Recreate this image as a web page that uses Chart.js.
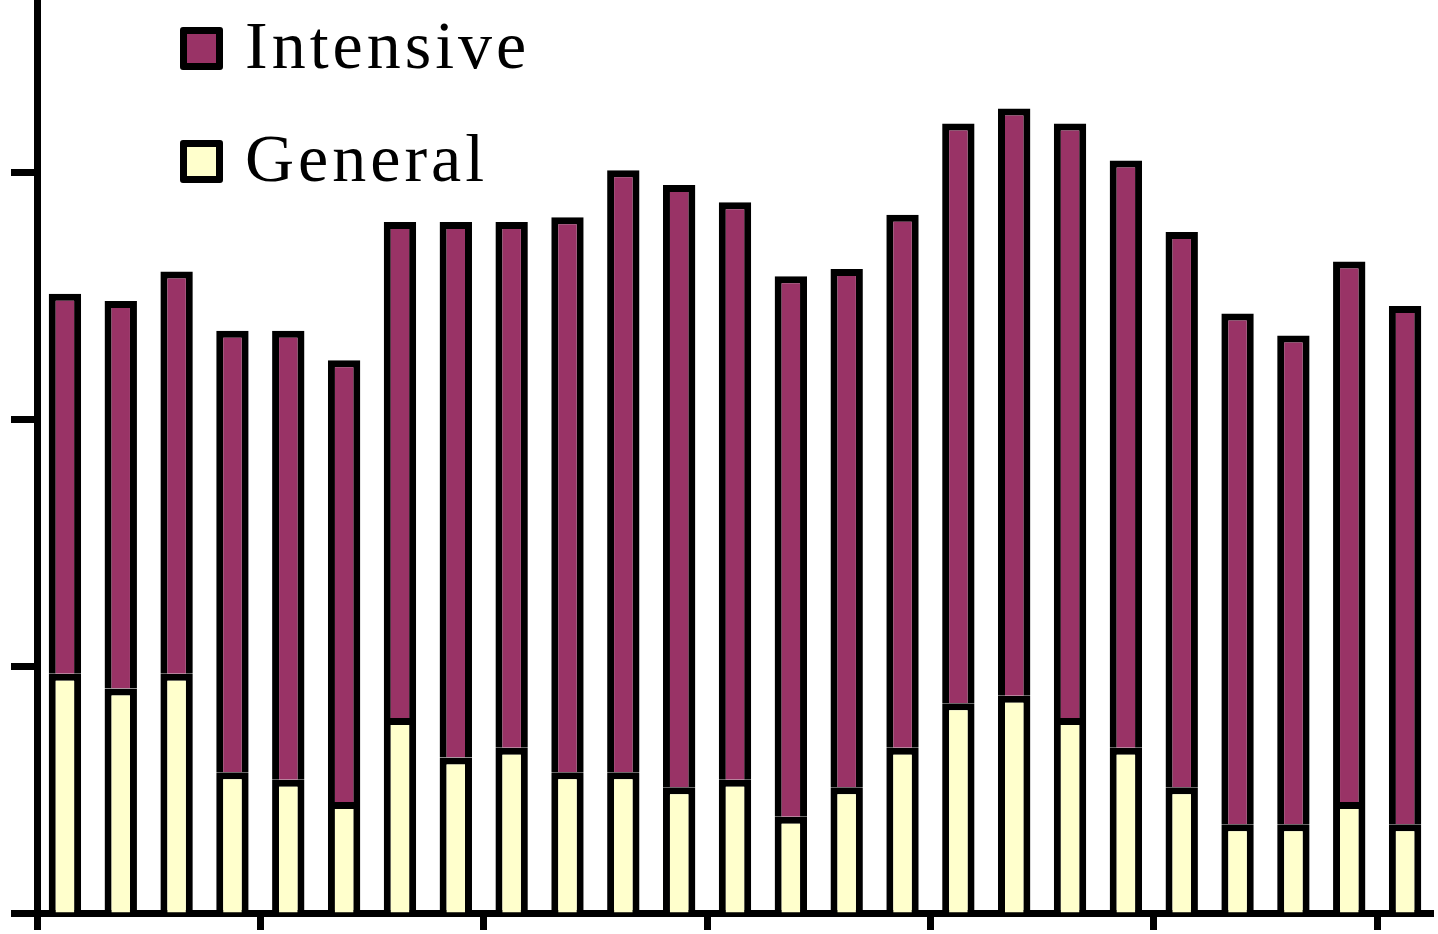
<!DOCTYPE html>
<html>
<head>
<meta charset="utf-8">
<script src="https://cdn.jsdelivr.net/npm/chart.js@4/dist/chart.umd.min.js"></script>
<style>
  html, body { margin: 0; padding: 0; background: #fff; }
  #wrap { position: relative; width: 1438px; height: 934px; }
  #legend { position: absolute; left: 180px; top: 0; }
  .item { position: absolute; left: 0; white-space: nowrap; }
  .box { position: absolute; left: 0; width: 29px; height: 29px; border: 7px solid #000; border-radius: 3px; }
  .lbl { position: absolute; left: 65px; font-family: "Liberation Serif", "DejaVu Serif", serif; font-size: 68px; line-height: 68px; letter-spacing: 4px; color: #000; }
</style>
</head>
<body>
<div id="wrap">
  <canvas id="c" width="1438" height="934"></canvas>
  <div id="legend"></div>
</div>
<script>
// ---- data ----
const categories = ["1","2","3","4","5","6","7","8","9","10","11","12","13","14","15","16","17","18","19","20","21","22","23","24","25"];
const generalValues = [0.97, 0.91, 0.97, 0.57, 0.54, 0.45, 0.79, 0.63, 0.67, 0.57, 0.57, 0.51, 0.54, 0.39, 0.51, 0.67, 0.85, 0.88, 0.79, 0.67, 0.51, 0.36, 0.36, 0.45, 0.36];
const intensiveValues = [1.54, 1.57, 1.63, 1.79, 1.82, 1.79, 2.01, 2.17, 2.13, 2.25, 2.44, 2.44, 2.34, 2.19, 2.10, 2.16, 2.35, 2.38, 2.41, 2.38, 2.25, 2.07, 1.98, 2.19, 2.10];
const seriesNames = ["General", "Intensive"];
const yTickValues = [0, 1, 2, 3];

const colors = { General: "#FFFFCC", Intensive: "#993366" };

const chart = new Chart(document.getElementById("c"), {
  type: "bar",
  data: {
    labels: categories,
    datasets: [
      { label: seriesNames[0], data: generalValues, backgroundColor: colors.General, borderColor: "#000", borderWidth: 7, borderSkipped: "start" },
      { label: seriesNames[1], data: intensiveValues, backgroundColor: colors.Intensive, borderColor: "#000", borderWidth: 7, borderSkipped: "start" }
    ]
  },
  options: {
    responsive: false,
    animation: false,
    layout: { padding: { left: 11, right: 5, top: 0, bottom: 4 } },
    plugins: { legend: { display: false }, tooltip: { enabled: false } },
    datasets: { bar: { barPercentage: 0.58, categoryPercentage: 1.0 } },
    scales: {
      x: {
        stacked: true,
        offset: true,
        ticks: { display: false, autoSkip: false },
        grid: {
          offset: true,
          drawOnChartArea: false,
          drawTicks: true,
          tickLength: 17,
          tickWidth: 7,
          tickColor: (ctx) => (ctx.index % 4 === 0 ? "#000" : "rgba(0,0,0,0)")
        },
        border: { display: true, color: "#000", width: 7 }
      },
      y: {
        stacked: true,
        min: 0,
        max: 3.7,
        afterBuildTicks: (scale) => { scale.ticks = yTickValues.map(v => ({ value: v })); },
        ticks: { display: false, stepSize: 1, includeBounds: false },
        grid: {
          drawOnChartArea: false,
          drawTicks: true,
          tickLength: 26,
          tickWidth: 7,
          tickColor: "#000"
        },
        border: { display: true, color: "#000", width: 7 }
      }
    }
  }
});

// HTML legend built from the chart's datasets (top item = last dataset)
const legend = document.getElementById("legend");
const tops = [27, 140];
chart.data.datasets.slice().reverse().forEach((ds, i) => {
  const item = document.createElement("div");
  item.className = "item";
  item.style.top = tops[i] + "px";
  const box = document.createElement("div");
  box.className = "box";
  box.style.background = ds.backgroundColor;
  box.style.top = "0px";
  const lbl = document.createElement("div");
  lbl.className = "lbl";
  lbl.style.top = "-16px";
  lbl.textContent = ds.label;
  item.appendChild(box);
  item.appendChild(lbl);
  legend.appendChild(item);
});
</script>
</body>
</html>
